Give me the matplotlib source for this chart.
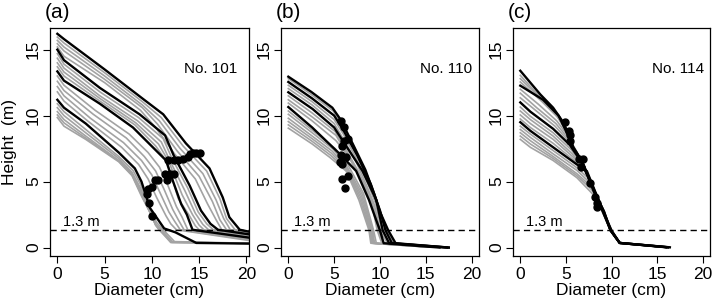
import matplotlib
matplotlib.use("Agg")
import matplotlib.pyplot as plt

plt.rcParams['font.family'] = ['Liberation Sans', 'DejaVu Sans']

# ---- data: stem profiles, diameter (cm) vs height (m), outer year first ----
# panel (a) No. 101
a_d = [
    [0, 0.7, 5, 9, 11.2, 13.6, 16.1, 17.5, 18.2, 19.3, 20.3, 29],
    [0, 0.7, 5, 9, 11.0, 13.3, 15.8, 17.2, 17.9, 18.8, 28.5],
    [0, 0.7, 5, 9, 10.8, 13.0, 15.4, 16.8, 17.6, 18.3, 28],
    [0, 0.7, 5, 9, 10.6, 12.7, 15.0, 16.4, 17.2, 17.9, 27.5],
    [0, 0.7, 5, 8.8, 10.4, 12.4, 14.6, 15.9, 16.8, 17.4, 27],
    [0, 0.7, 4.5, 8.7, 11.4, 12.3, 14.0, 15.2, 16.2, 17.0, 20.3, 27],
    [0, 0.7, 4.5, 8.6, 11.2, 12.1, 13.8, 14.9, 15.8, 16.5, 26.5],
    [0, 0.7, 4.5, 8.5, 11.0, 11.9, 13.5, 14.6, 15.4, 16.0, 26],
    [0, 0.7, 4.5, 8.3, 10.7, 11.8, 13.2, 14.3, 15.0, 15.5, 25.5],
    [0, 0.7, 4.5, 8.2, 10.4, 11.6, 12.8, 13.9, 14.6, 15.0, 25],
    [0, 0.7, 4.5, 8.0, 10.1, 11.5, 12.2, 13.1, 13.7, 14.3, 20.3, 26],
    [0, 0.7, 4.0, 7.6, 9.6, 10.8, 11.7, 12.6, 13.2, 13.8, 24],
    [0, 0.7, 3.8, 7.3, 9.2, 10.4, 11.3, 12.2, 12.8, 13.4, 23.5],
    [0, 0.7, 3.5, 7.0, 8.9, 10.0, 10.9, 11.8, 12.4, 13.0, 23],
    [0, 0.7, 3.2, 6.8, 8.6, 9.6, 10.5, 11.5, 12.0, 12.6, 22.5],
    [0, 0.7, 3.0, 6.5, 8.2, 8.9, 9.8, 11.3, 12.5, 14.7, 22.5],
    [0, 0.7, 3.0, 6.5, 8.0, 8.8, 9.7, 10.5, 11.2, 12.4, 22],
    [0, 0.7, 3.0, 6.5, 7.9, 8.8, 9.7, 10.4, 11.0, 12.2, 22],
    [0, 0.7, 3.0, 6.5, 7.9, 8.9, 9.8, 10.4, 10.9, 12.1, 22],
    [0, 0.7, 3.0, 6.5, 7.9, 8.9, 9.9, 10.4, 10.8, 12.0, 22],
    [0, 0.7, 3.0, 6.5, 7.9, 8.9, 10.0, 10.4, 10.7, 12.1, 22],
]
a_h = [
    [16.2, 15.8, 13.5, 11.3, 10.1, 7.9, 6.0, 3.8, 2.3, 1.35, 1.2, 0.5],
    [15.95, 15.5, 13.25, 11.05, 9.85, 7.7, 5.8, 3.7, 2.2, 1.35, 0.48],
    [15.7, 15.2, 13.0, 10.8, 9.6, 7.5, 5.6, 3.6, 2.2, 1.35, 0.46],
    [15.45, 14.9, 12.75, 10.6, 9.35, 7.3, 5.4, 3.5, 2.1, 1.35, 0.44],
    [15.2, 14.5, 12.5, 10.4, 9.1, 7.1, 5.2, 3.3, 2.1, 1.35, 0.42],
    [15.0, 14.2, 12.1, 10.1, 8.5, 7.0, 4.7, 2.8, 1.8, 1.35, 1.0, 0.4],
    [14.7, 13.9, 11.8, 9.85, 8.25, 6.8, 4.5, 2.7, 1.8, 1.35, 0.4],
    [14.35, 13.6, 11.5, 9.6, 8.0, 6.6, 4.3, 2.6, 1.75, 1.35, 0.38],
    [14.0, 13.3, 11.3, 9.45, 7.85, 6.5, 4.0, 2.5, 1.7, 1.35, 0.36],
    [13.7, 13.0, 11.1, 9.3, 7.7, 6.5, 3.7, 2.5, 1.65, 1.35, 0.34],
    [13.35, 12.65, 10.9, 9.1, 7.6, 6.6, 5.1, 3.3, 2.5, 1.35, 0.75, 0.3],
    [13.0, 12.3, 10.4, 8.6, 7.2, 6.1, 4.7, 3.1, 2.3, 1.35, 0.32],
    [12.6, 11.9, 10.1, 8.3, 6.9, 5.8, 4.4, 2.9, 2.1, 1.35, 0.3],
    [12.2, 11.5, 9.8, 7.95, 6.6, 5.5, 4.1, 2.7, 2.0, 1.35, 0.3],
    [11.8, 11.1, 9.6, 7.6, 6.3, 5.2, 3.8, 2.4, 1.8, 1.35, 0.3],
    [11.2, 10.6, 9.4, 7.2, 6.0, 5.0, 3.0, 1.45, 1.15, 0.35, 0.28],
    [10.9, 10.3, 8.95, 6.9, 5.85, 4.8, 3.1, 1.9, 1.35, 0.45, 0.3],
    [10.6, 10.0, 8.7, 6.75, 5.7, 4.5, 2.9, 1.8, 1.35, 0.42, 0.3],
    [10.3, 9.7, 8.45, 6.6, 5.6, 4.2, 2.7, 1.75, 1.35, 0.4, 0.3],
    [10.05, 9.45, 8.3, 6.55, 5.5, 4.0, 2.5, 1.7, 1.35, 0.38, 0.3],
    [9.85, 9.2, 8.2, 6.5, 5.45, 3.9, 2.4, 1.7, 1.4, 0.4, 0.3],
]
a_black = [0, 5, 10, 15]
a_dot_d = [10.0, 9.65, 9.5, 9.6, 10.0, 10.35, 10.7, 11.6, 11.4, 11.9, 12.3,
           11.75, 12.3, 12.8, 13.3, 13.85, 14.0, 14.4, 14.7, 15.1]
a_dot_h = [2.4, 3.4, 4.05, 4.45, 4.6, 5.1, 5.1, 5.1, 5.6, 5.6, 5.6,
           6.65, 6.65, 6.65, 6.7, 6.85, 7.1, 7.2, 7.2, 7.2]

# panel (b) No. 110
b_d = [
    [0, 2.5, 4.8, 5.7, 7.0, 8.4, 9.4, 10.0, 10.9, 11.7, 17.5],
    [0, 2.5, 4.9, 5.8, 7.2, 8.6, 9.6, 10.2, 10.8, 11.5, 15.5],
    [0, 2.6, 5.0, 6.0, 7.5, 9.0, 10.0, 10.6, 11.3, 17.5],
    [0, 2.6, 5.0, 6.0, 7.3, 8.7, 9.5, 10.2, 11.0, 15.5],
    [0, 2.6, 5.0, 6.1, 7.4, 8.6, 9.4, 10.0, 10.8, 15.5],
    [0, 2.65, 5.0, 6.3, 8.1, 9.6, 10.3, 11.0, 17.3],
    [0, 2.6, 5.1, 6.3, 7.7, 8.9, 9.5, 9.9, 10.4, 15],
    [0, 2.6, 5.2, 6.4, 7.7, 8.8, 9.4, 9.8, 10.3, 15],
    [0, 2.6, 5.2, 6.6, 8.2, 9.2, 9.7, 10.2, 15.5],
    [0, 2.6, 5.6, 7.4, 8.8, 9.6, 10.0, 10.4, 16.5],
    [0, 2.6, 5.1, 6.4, 8.2, 9.3, 9.6, 15.5],
    [0, 2.6, 4.9, 6.3, 8.1, 9.2, 9.4, 15.5],
    [0, 2.6, 4.8, 6.3, 8.0, 9.1, 9.3, 15],
    [0, 2.6, 4.7, 6.3, 7.9, 9.0, 9.2, 15],
    [0, 2.6, 4.6, 6.3, 7.8, 8.9, 9.1, 15],
    [0, 2.6, 4.5, 6.3, 7.7, 8.8, 9.0, 15],
]
b_h = [
    [12.95, 11.8, 10.6, 9.7, 7.9, 5.9, 4.0, 2.7, 1.3, 0.33, 0.0],
    [12.8, 11.6, 10.35, 9.4, 7.6, 5.5, 3.6, 2.4, 1.3, 0.33, 0.05],
    [12.55, 11.3, 10.0, 8.9, 7.0, 4.8, 2.8, 1.3, 0.33, 0.0],
    [12.3, 11.05, 9.7, 8.6, 6.9, 4.8, 3.4, 1.3, 0.33, 0.05],
    [12.05, 10.8, 9.4, 8.1, 6.5, 4.6, 3.2, 1.3, 0.33, 0.05],
    [11.77, 10.5, 9.1, 7.7, 5.8, 3.6, 1.3, 0.33, 0.0],
    [11.5, 10.2, 8.8, 7.4, 5.7, 3.9, 2.6, 1.3, 0.33, 0.05],
    [11.2, 9.9, 8.5, 7.1, 5.5, 3.8, 2.5, 1.3, 0.33, 0.05],
    [10.95, 9.6, 8.1, 6.9, 4.9, 3.0, 1.3, 0.33, 0.05],
    [10.65, 9.1, 7.1, 5.8, 3.6, 2.05, 1.3, 0.33, 0.0],
    [10.35, 8.9, 7.5, 6.4, 4.1, 1.3, 0.33, 0.05],
    [10.1, 8.7, 7.45, 6.25, 4.0, 1.3, 0.33, 0.05],
    [9.8, 8.45, 7.3, 6.1, 3.9, 1.3, 0.33, 0.05],
    [9.55, 8.25, 7.15, 6.0, 3.8, 1.3, 0.33, 0.05],
    [9.3, 8.05, 7.0, 5.9, 3.7, 1.3, 0.33, 0.05],
    [9.05, 7.85, 6.85, 5.8, 3.6, 1.3, 0.33, 0.05],
]
b_black = [0, 2, 5, 9]
b_dot_d = [5.75, 6.1, 6.5, 6.1, 5.9, 5.75, 6.3, 5.6, 5.9, 5.9, 6.5, 6.2]
b_dot_h = [9.6, 9.1, 8.2, 8.1, 7.7, 7.0, 6.9, 6.5, 6.3, 5.2, 5.4, 4.5]

# panel (c) No. 114
c_d = [
    [0, 2.2, 3.6, 4.7, 5.3, 5.8, 6.7, 7.6, 8.4, 9.1, 9.9, 10.9, 16.4],
    [0, 2.3, 4.0, 4.9, 5.8, 6.8, 7.7, 8.5, 9.2, 9.95, 10.9, 16.0],
    [0, 2.4, 4.1, 5.0, 5.8, 6.8, 7.7, 8.5, 9.2, 9.9, 10.9, 16.0],
    [0, 2.4, 4.2, 5.1, 5.8, 6.8, 7.7, 8.5, 9.2, 9.9, 10.9, 16.0],
    [0, 2.5, 4.2, 5.1, 5.8, 6.8, 7.7, 8.5, 9.2, 9.9, 10.9, 16.2],
    [0, 2.0, 4.0, 5.3, 6.3, 7.3, 8.2, 9.0, 9.9, 10.9, 16],
    [0, 1.8, 3.9, 5.4, 6.4, 7.3, 8.2, 9.0, 9.9, 10.9, 16],
    [0, 1.5, 3.8, 5.4, 6.5, 7.4, 8.2, 9.0, 9.9, 10.9, 16],
    [0, 1.1, 3.6, 5.4, 6.6, 7.4, 8.2, 9.0, 9.9, 10.9, 16.2],
    [0, 1.1, 3.6, 5.6, 6.8, 7.5, 8.2, 9.0, 9.9, 10.9, 16],
    [0, 1.1, 3.6, 5.7, 6.9, 7.6, 8.2, 9.0, 9.9, 10.9, 16],
    [0, 1.1, 3.6, 5.8, 7.0, 7.7, 8.3, 9.0, 9.9, 10.9, 16],
    [0, 1.1, 3.6, 6.0, 7.1, 7.8, 8.4, 9.1, 9.95, 10.9, 16],
    [0, 1.1, 3.6, 6.2, 7.3, 8.0, 8.7, 9.3, 10.0, 10.9, 16.0],
    [0, 1.1, 3.6, 6.2, 7.4, 8.0, 8.6, 9.2, 10.0, 10.9, 16],
    [0, 1.1, 3.6, 6.2, 7.5, 8.0, 8.6, 9.2, 10.0, 10.9, 16],
    [0, 1.1, 3.6, 6.2, 7.5, 8.0, 8.6, 9.2, 10.0, 10.9, 16],
    [0, 1.1, 3.6, 6.2, 7.6, 8.0, 8.6, 9.2, 10.0, 10.9, 16],
    [0, 1.1, 3.6, 6.2, 7.6, 8.0, 8.6, 9.2, 10.0, 10.9, 16],
]
c_h = [
    [13.4, 11.6, 10.6, 9.5, 8.6, 7.6, 6.6, 5.1, 3.8, 2.8, 1.3, 0.35, 0.02],
    [13.05, 11.3, 10.0, 9.0, 7.7, 6.55, 5.0, 3.75, 2.75, 1.3, 0.35, 0.02],
    [12.8, 11.2, 9.9, 8.85, 7.6, 6.5, 5.0, 3.75, 2.75, 1.3, 0.35, 0.02],
    [12.55, 11.05, 9.8, 8.75, 7.6, 6.5, 5.0, 3.7, 2.7, 1.3, 0.35, 0.02],
    [12.27, 11.2, 10.0, 8.7, 7.6, 6.5, 5.0, 3.7, 2.7, 1.3, 0.35, 0.02],
    [12.0, 10.85, 9.6, 8.4, 7.1, 5.6, 4.1, 2.8, 1.3, 0.35, 0.02],
    [11.7, 10.6, 9.4, 8.15, 6.95, 5.5, 4.05, 2.8, 1.3, 0.35, 0.02],
    [11.35, 10.5, 9.2, 8.0, 6.8, 5.45, 4.0, 2.8, 1.3, 0.35, 0.02],
    [11.0, 10.3, 9.0, 7.8, 6.6, 5.4, 4.0, 2.8, 1.3, 0.35, 0.02],
    [10.65, 9.95, 8.7, 7.4, 6.3, 5.3, 4.0, 2.8, 1.3, 0.35, 0.02],
    [10.35, 9.7, 8.45, 7.1, 6.1, 5.2, 4.0, 2.8, 1.3, 0.35, 0.02],
    [10.05, 9.4, 8.2, 6.85, 5.95, 5.1, 3.9, 2.8, 1.3, 0.35, 0.02],
    [9.75, 9.1, 7.9, 6.55, 5.9, 4.9, 3.8, 2.7, 1.3, 0.35, 0.02],
    [9.5, 8.85, 7.6, 6.3, 5.8, 4.6, 3.4, 2.4, 1.3, 0.35, 0.02],
    [9.2, 8.6, 7.35, 6.05, 5.3, 4.5, 3.5, 2.5, 1.3, 0.35, 0.02],
    [8.95, 8.35, 7.1, 5.85, 5.0, 4.4, 3.45, 2.5, 1.3, 0.35, 0.02],
    [8.7, 8.1, 6.9, 5.6, 4.8, 4.3, 3.4, 2.5, 1.3, 0.35, 0.02],
    [8.45, 7.85, 6.75, 5.45, 4.55, 4.2, 3.35, 2.45, 1.3, 0.35, 0.02],
    [8.2, 7.6, 6.6, 5.3, 4.3, 4.0, 3.3, 2.4, 1.3, 0.35, 0.02],
]
c_black = [0, 4, 8, 13]
c_dot_d = [4.9, 5.3, 5.4, 5.45, 6.4, 6.9, 6.7, 7.6, 8.2, 8.4, 8.4]
c_dot_h = [9.5, 8.86, 8.5, 8.1, 6.7, 6.7, 6.1, 4.9, 3.8, 3.4, 3.05]

panels = [
    ("(a)", "No. 101", a_d, a_h, a_black, a_dot_d, a_dot_h, (-0.78, 20.28), 19.0),
    ("(b)", "No. 110", b_d, b_h, b_black, b_dot_d, b_dot_h, (-0.8, 20.8), 20.0),
    ("(c)", "No. 114", c_d, c_h, c_black, c_dot_d, c_dot_h, (-0.8, 20.8), 20.2),
]
lefts = [50, 281, 513]
widths = [199, 198, 197]

GRAY = '#a3a3a3'

fig = plt.figure(figsize=(7.14, 3.04), dpi=100)

for i, (tag, name, dd, hh, black, dot_d, dot_h, xlim, name_x) in enumerate(panels):
    ax = fig.add_axes([lefts[i] / 714, 48 / 304, widths[i] / 714, 228 / 304])
    for k in range(len(dd)):
        if k not in black:
            ax.plot(dd[k], hh[k], color=GRAY, lw=1.2, zorder=2)
    for k in black:
        ax.plot(dd[k], hh[k], color='black', lw=1.7, zorder=3)
    ax.plot(dot_d, dot_h, 'o', color='black', ms=5, zorder=4)
    ax.axhline(1.3, color='black', lw=1.0, ls=(0, (4.5, 3)), zorder=5)
    ax.text(0.6, 1.4, "1.3 m", fontsize=10.5, ha='left', va='bottom')
    ax.text(name_x, 13.5, name, fontsize=11, ha='right', va='center')

    ax.set_xlim(*xlim)
    ax.set_ylim(-0.64, 16.64)
    ax.set_xticks([0, 5, 10, 15, 20])
    ax.set_yticks([0, 5, 10, 15])
    ax.tick_params(direction='out', length=5, width=0.8, labelsize=12.5, pad=3)
    ax.tick_params(axis='y', pad=1.5)
    for lab in ax.get_yticklabels():
        lab.set_rotation(90)
        lab.set_va('center')
    for s in ax.spines.values():
        s.set_linewidth(0.9)

    ax.set_xlabel("Diameter (cm)", fontsize=12.5)
    ax.xaxis.set_label_coords(0.5, -0.12)
    if i == 0:
        ax.set_ylabel("Height  (m)", fontsize=12.5)
        ax.yaxis.set_label_coords(-0.165, 0.5)
    fig.text((lefts[i] - 5) / 714, 1 - 12 / 304, tag, fontsize=15, ha='left', va='center')

fig.savefig("out.png", dpi=100)
